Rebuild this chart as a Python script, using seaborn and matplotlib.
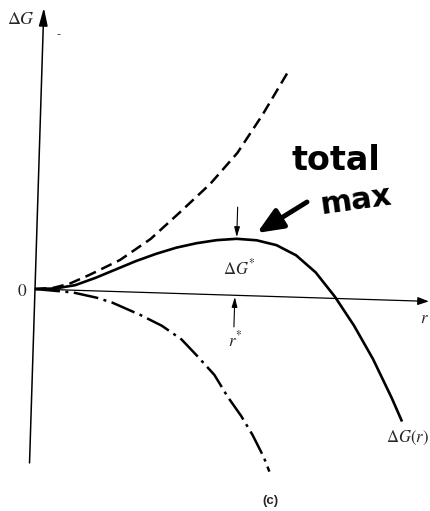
import numpy as np
import pandas as pd
import matplotlib
matplotlib.use("Agg")
import matplotlib.pyplot as plt
import seaborn as sns
from matplotlib.transforms import Affine2D

# Nucleation free energy vs. embryo radius.
# Radius in units of r*, free energy in units of the barrier height ΔG*.
r_total = [0.0, 0.1, 0.2, 0.3, 0.4, 0.5, 0.6, 0.7, 0.8, 0.9, 1.0, 1.1, 1.2, 1.3, 1.4, 1.5, 1.6, 1.7, 1.8, 1.855]
g_total = [0.0, 0.02, 0.09, 0.23, 0.39, 0.55, 0.69, 0.81, 0.90, 0.965, 1.0, 0.985, 0.91, 0.74, 0.45, 0.03, -0.47, -1.05, -1.73, -2.14]

# surface-energy term (dashed)
r_surface = [0.0, 0.09, 0.17, 0.27, 0.42, 0.57, 0.71, 0.86, 0.99, 1.11, 1.23]
g_surface = [0.0, 0.03, 0.11, 0.28, 0.56, 0.95, 1.43, 1.96, 2.52, 3.21, 3.98]

# volume (bulk) term (dash-dot)
r_volume = [0.0, 0.19, 0.31, 0.39, 0.53, 0.64, 0.74, 0.82, 0.91, 0.98, 1.05, 1.11, 1.17, 1.20]
g_volume = [0.0, -0.04, -0.12, -0.20, -0.40, -0.58, -0.81, -1.09, -1.42, -1.80, -2.13, -2.46, -2.85, -3.10]

r_star = 1.0
g_star = 1.0

sns.set_theme(style="white")
plt.rcParams["mathtext.fontset"] = "stix"

fig = plt.figure(figsize=(4.3, 5.11), dpi=100)
ax = fig.add_axes([0, 0, 1, 1])
ax.set_axis_off()
ax.set_xlim(-0.175, 1.975)
ax.set_ylim(-3.929, 5.115)

# the whole drawing sits slightly tilted on the page
tilt = ax.transData + Affine2D().rotate_deg_around(35, 222, -1.8)

curves = pd.concat([
    pd.DataFrame({"r": r_total, "dG": g_total, "term": "total"}),
    pd.DataFrame({"r": r_surface, "dG": g_surface, "term": "surface"}),
    pd.DataFrame({"r": r_volume, "dG": g_volume, "term": "volume"}),
])

styles = {
    "total": dict(lw=1.9, dashes=None),
    "surface": dict(lw=1.8, dashes=[4.6, 2.4]),
    "volume": dict(lw=1.8, dashes=[10.0, 2.2, 1.2, 2.2]),
}
for term, sub in curves.groupby("term", sort=False):
    n_before = len(ax.lines)
    sns.lineplot(data=sub, x="r", y="dG", ax=ax, color="black",
                 lw=styles[term]["lw"], sort=False, legend=False)
    ln = ax.lines[n_before]
    ln.set_transform(tilt)
    ln.set_solid_capstyle("butt")
    ln.set_solid_joinstyle("round")
    if styles[term]["dashes"] is not None:
        ln.set_dashes(styles[term]["dashes"])
        ln.set_dash_capstyle("butt")

# coordinate axes with arrow heads
ax.annotate("", xy=(0, 4.98), xytext=(0, -3.08), xycoords=tilt, textcoords=tilt,
            arrowprops=dict(arrowstyle="-|>,head_length=0.9,head_width=0.22",
                            lw=1.1, color="black", shrinkA=0, shrinkB=0))
ax.annotate("", xy=(1.97, 0.0), xytext=(0, 0), xycoords=tilt, textcoords=tilt,
            arrowprops=dict(arrowstyle="-|>,head_length=0.55,head_width=0.2",
                            lw=0.9, color="black", shrinkA=0, shrinkB=0))

# markers for the barrier height and the critical radius
ax.annotate("", xy=(r_star, g_star + 0.03), xytext=(r_star, 1.56), xycoords=tilt, textcoords=tilt,
            arrowprops=dict(arrowstyle="-|>,head_length=0.5,head_width=0.14",
                            lw=0.8, color="black", shrinkA=0, shrinkB=0))
ax.annotate("", xy=(r_star, -0.03), xytext=(r_star, -0.56), xycoords=tilt, textcoords=tilt,
            arrowprops=dict(arrowstyle="-|>,head_length=0.5,head_width=0.14",
                            lw=0.8, color="black", shrinkA=0, shrinkB=0))

# labels
ax.text(-0.11, 4.77, r"$\Delta G$", transform=tilt, ha="center", va="center", fontsize=13)
ax.text(0.075, 4.53, "-", transform=tilt, ha="center", va="center", fontsize=8)
ax.text(-0.066, -0.04, r"$0$", transform=tilt, ha="center", va="center", fontsize=12.5)
ax.text(1.02, 0.47, r"$\Delta G^{*}$", transform=tilt, ha="center", va="center", fontsize=12)
ax.text(1.01, -0.79, r"$r^{*}$", transform=tilt, ha="center", va="center", fontsize=12)
ax.text(1.95, -0.30, r"$r$", transform=tilt, ha="center", va="center", fontsize=12)
ax.text(1.78, -2.44, r"$\Delta G(r)$", transform=tilt, ha="left", va="center", fontsize=12)

# handwritten note pointing at the maximum
fig.text(336 / 430, 1 - 160 / 511, "total", ha="center", va="center",
         fontsize=24, fontweight="bold", family="DejaVu Sans", color="black")
fig.text(356 / 430, 1 - 201 / 511, "max", ha="center", va="center", rotation=8,
         fontsize=22, fontweight="bold", family="DejaVu Sans", color="black")
ax.annotate("", xy=(257 / 430, 1 - 233 / 511), xytext=(307 / 430, 1 - 202 / 511),
            xycoords="figure fraction", textcoords="figure fraction",
            arrowprops=dict(arrowstyle="-|>,head_length=1.3,head_width=0.55",
                            lw=3.5, color="black", shrinkA=0, shrinkB=0))

fig.text(270 / 430, 1 - 501 / 511, "(c)", ha="center", va="center",
         fontsize=9.5, fontweight="bold", family="Liberation Sans")

fig.savefig("out.png", dpi=100)
